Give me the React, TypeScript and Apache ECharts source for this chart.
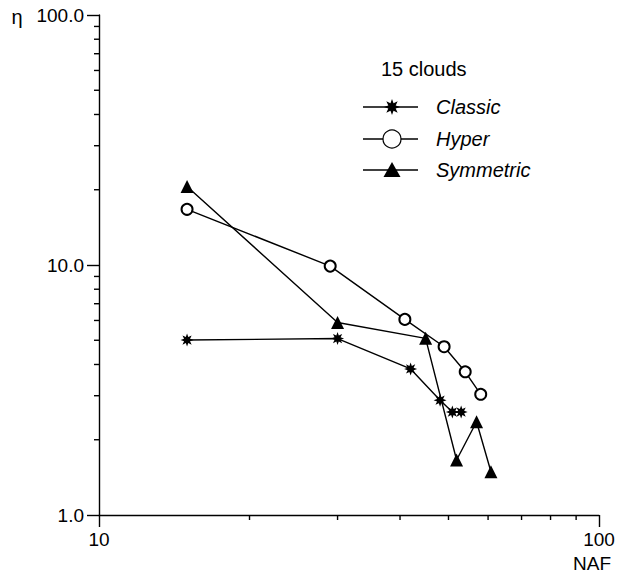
import React, { useEffect, useRef } from 'react';
import * as echarts from 'echarts';

const seriesNames = ['Classic', 'Hyper', 'Symmetric'];
const classicNAF = [15, 30, 42, 48.1, 50.9, 53];
const classicEta = [5.01, 5.08, 3.84, 2.88, 2.58, 2.58];
const hyperNAF = [15, 29, 40.9, 49, 54, 58];
const hyperEta = [16.7, 9.9, 6.06, 4.71, 3.74, 3.04];
const symNAF = [15, 30, 45, 51.9, 56.9, 60.8];
const symEta = [20.6, 5.89, 5.09, 1.66, 2.36, 1.49];
const xMinorTicks = [20, 30, 40, 50, 60, 70, 80, 90];
const yMinorTicks = [2, 3, 4, 5, 6, 7, 8, 9, 20, 30, 40, 50, 60, 70, 80, 90];
const legendTitle = '15 clouds';
const xName = 'NAF';
const yName = 'η';

const FONT = '"Liberation Sans", Arial, sans-serif';
const INK = '#000';
const LW = 1.4;

function starPoints(n: number, inner: number, cx = 0, cy = 0, R = 1): number[][] {
  const pts: number[][] = [];
  for (let i = 0; i < 2 * n; i++) {
    const a = (Math.PI * i) / n - Math.PI / 2;
    const r = i % 2 === 0 ? R : R * inner;
    pts.push([cx + r * Math.cos(a), cy + r * Math.sin(a)]);
  }
  return pts;
}
const starSymbol =
  'path://M' +
  starPoints(8, 0.5)
    .map((p) => (p[0] * 10 + 10).toFixed(3) + ' ' + (p[1] * 10 + 10).toFixed(3))
    .join(' L') +
  ' Z';

function zip(xs: number[], ys: number[]) {
  return xs.map((x, i) => [x, ys[i]]);
}

export default function App() {
  const ref = useRef<HTMLDivElement>(null);
  useEffect(() => {
    if (!ref.current) return;
    const chart = echarts.init(ref.current, undefined, { renderer: 'svg' });
    const lineStyle = { color: INK, width: LW };
    const legendRows = [107, 139, 170];
    const lx1 = 363, lx2 = 418, mx = 392, tx = 436;
    const graphic: any[] = [
      { type: 'text', x: 17, y: 17, style: { text: yName, font: `20px ${FONT}`, fill: INK, align: 'center', verticalAlign: 'middle' } },
      { type: 'text', x: 592, y: 563, style: { text: xName, font: `19px ${FONT}`, fill: INK, align: 'center', verticalAlign: 'middle' } },
      { type: 'text', x: 381, y: 69, style: { text: legendTitle, font: `20px ${FONT}`, fill: INK, verticalAlign: 'middle' } },
    ];
    seriesNames.forEach((name, i) => {
      const y = legendRows[i];
      graphic.push({ type: 'line', shape: { x1: lx1, y1: y, x2: lx2, y2: y }, style: { stroke: INK, lineWidth: LW } });
      if (i === 0) {
        graphic.push({ type: 'polygon', shape: { points: starPoints(8, 0.5, mx, y, 8) }, style: { fill: INK } });
      } else if (i === 1) {
        graphic.push({ type: 'circle', shape: { cx: mx, cy: y, r: 9 }, style: { fill: '#fff', stroke: INK, lineWidth: 1.2 } });
      } else {
        graphic.push({ type: 'polygon', shape: { points: [[mx, y - 8], [mx + 8.5, y + 7], [mx - 8.5, y + 7]] }, style: { fill: INK } });
      }
      graphic.push({ type: 'text', x: tx, y, style: { text: name, font: `italic 20px ${FONT}`, fill: INK, verticalAlign: 'middle' } });
    });

    const symbols = [starSymbol, 'emptyCircle', 'triangle'];
    const sizes = [13, 11, 13];
    const datas = [zip(classicNAF, classicEta), zip(hyperNAF, hyperEta), zip(symNAF, symEta)];

    chart.setOption({
      animation: false,
      textStyle: { fontFamily: FONT },
      grid: { left: 99, top: 15, width: 500, height: 500, containLabel: false },
      xAxis: {
        type: 'log',
        logBase: 10,
        min: 10,
        max: 100,
        axisLine: { lineStyle },
        axisTick: { show: true, length: 12, lineStyle },
        axisLabel: { color: INK, fontSize: 19, fontFamily: FONT, margin: 15, formatter: (v: number) => String(Math.round(v)) },
        splitLine: { show: false },
        minorTick: { show: false },
      },
      yAxis: {
        type: 'log',
        logBase: 10,
        min: 1,
        max: 100,
        axisLine: { lineStyle },
        axisTick: { show: true, length: 12, lineStyle },
        axisLabel: { color: INK, fontSize: 19, fontFamily: FONT, margin: 15, formatter: (v: number) => Number(v).toFixed(1) },
        splitLine: { show: false },
        minorTick: { show: false },
      },
      graphic,
      series: [
        ...seriesNames.map((name, i) => ({
          name,
          type: 'line',
          data: datas[i],
          symbol: symbols[i],
          symbolSize: sizes[i],
          showAllSymbol: true,
          lineStyle: { color: INK, width: LW },
          itemStyle: { color: INK, borderColor: INK, borderWidth: i === 1 ? 1.2 : 0 },
          z: 3 + i,
        })),
        {
          type: 'custom',
          silent: true,
          clip: false,
          data: xMinorTicks.map((v) => [v, 1]),
          renderItem: (_p: any, api: any) => {
            const c = api.coord([api.value(0), api.value(1)]);
            return { type: 'line', shape: { x1: c[0], y1: c[1], x2: c[0], y2: c[1] + 5 }, style: { stroke: INK, lineWidth: LW } };
          },
        },
        {
          type: 'custom',
          silent: true,
          clip: false,
          data: yMinorTicks.map((v) => [10, v]),
          renderItem: (_p: any, api: any) => {
            const c = api.coord([api.value(0), api.value(1)]);
            return { type: 'line', shape: { x1: c[0], y1: c[1], x2: c[0] - 5, y2: c[1] }, style: { stroke: INK, lineWidth: LW } };
          },
        },
      ],
    });
    return () => chart.dispose();
  }, []);
  return <div ref={ref} style={{ position: 'fixed', left: 0, top: 0, width: 625, height: 574, background: '#fff' }} />;
}
